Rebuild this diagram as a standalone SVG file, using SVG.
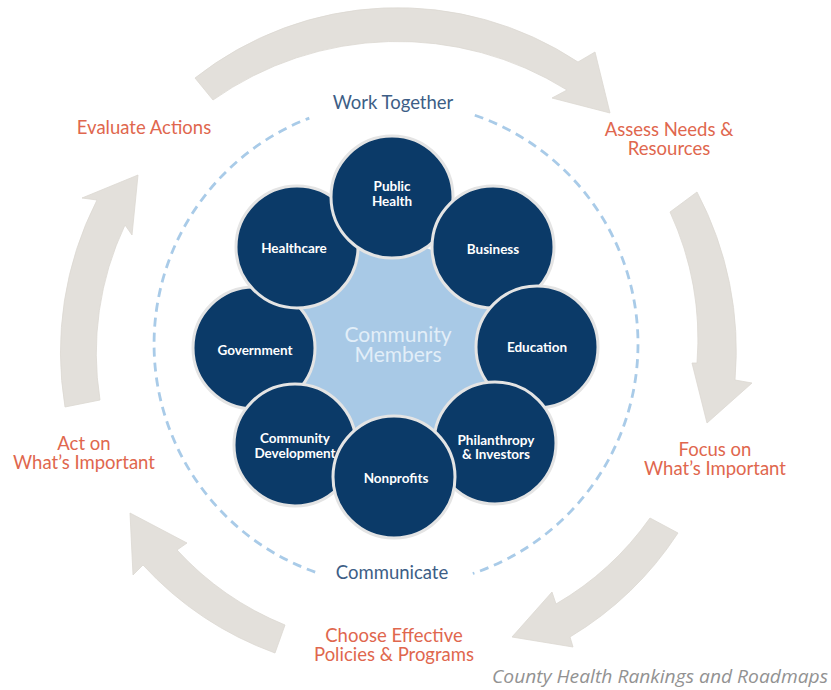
<svg xmlns="http://www.w3.org/2000/svg" width="831" height="690" viewBox="0 0 831 690">
<style>
.arrow{fill:#e3e0db;stroke:#dcd8d2;stroke-width:0.8}
.dash{fill:none;stroke:#a9cbe8;stroke-width:2.8;stroke-dasharray:9 6}
.step{font-family:Lato,"Liberation Sans",sans-serif;font-size:18.5px;fill:#e0674e;text-anchor:middle}
.ring{font-family:Lato,"Liberation Sans",sans-serif;font-size:18.5px;fill:#3d5e86;text-anchor:middle}
.node circle{fill:#0b3a68;stroke:#e4e4e4;stroke-width:3}
.node text{font-family:Lato,"Liberation Sans",sans-serif;font-weight:700;font-size:13.5px;fill:#ffffff;text-anchor:middle}
.center{font-family:Lato,"Liberation Sans",sans-serif;font-size:21px;fill:#e2eef8;text-anchor:middle}
.credit{font-family:"Open Sans","Liberation Sans",sans-serif;font-style:italic;font-size:19px;fill:#929292;text-anchor:end}
</style>
<rect width="831" height="690" fill="#ffffff"/>
<g id="connectors">
<path class="arrow" d="M195,78 A327,327 0 0 1 578,62 L595,52 L610,113 L552,98 L567,90 A320,320 0 0 0 213,100 Z"/>
<path class="arrow" d="M697,192 A340,340 0 0 1 735,380 L752,383 L707,423 L692,363 L697,363 A305,305 0 0 0 670,212 Z"/>
<path class="arrow" d="M678,533 A335,335 0 0 1 570,637 L573,647 L512,637 L552,592 L556,604 A300,300 0 0 0 650,518 Z"/>
<path class="arrow" d="M275,653 A335,335 0 0 1 143,565 L133,575 L130,513 L187,543 L177,550 A300,300 0 0 0 285,625 Z"/>
<path class="arrow" d="M65,407 A335,335 0 0 1 97,200 L82,198 L138,175 L132,235 L125,225 A300,300 0 0 0 100,400 Z"/>
<path class="dash" d="M474.8,115.2 A242,242 0 0 1 472.8,573.5"/>
<path class="dash" d="M315.2,572.1 A242,242 0 0 1 309.3,118.1"/>
</g>
<g id="labels">
<text class="step" x="144" y="134">Evaluate Actions</text>
<text class="step" x="669" y="136">Assess Needs &amp;</text>
<text class="step" x="669" y="155">Resources</text>
<text class="step" x="715" y="456">Focus on</text>
<text class="step" x="715" y="475">What’s Important</text>
<text class="step" x="394" y="642">Choose Effective</text>
<text class="step" x="394" y="661">Policies &amp; Programs</text>
<text class="step" x="84" y="450">Act on</text>
<text class="step" x="84" y="469">What’s Important</text>
<text class="ring" x="393" y="109">Work Together</text>
<text class="ring" x="392" y="579">Communicate</text>
</g>
<g id="community-members">
<circle cx="395" cy="345" r="102" fill="#a8c9e6"/>
<text class="center" x="398" y="342">Community</text>
<text class="center" x="398" y="362">Members</text>
</g>
<g id="government" class="node"><circle cx="254" cy="348" r="61"/><text x="255" y="355">Government</text></g>
<g id="community-development" class="node"><circle cx="295" cy="445" r="61"/><text x="295" y="443">Community</text><text x="295" y="458">Development</text></g>
<g id="healthcare" class="node"><circle cx="297" cy="247" r="61"/><text x="294" y="253">Healthcare</text></g>
<g id="public-health" class="node"><circle cx="392" cy="197" r="61"/><text x="392" y="191">Public</text><text x="392" y="206">Health</text></g>
<g id="business" class="node"><circle cx="493" cy="247" r="61"/><text x="493" y="254">Business</text></g>
<g id="education" class="node"><circle cx="537" cy="347" r="61"/><text x="537" y="352">Education</text></g>
<g id="philanthropy-investors" class="node"><circle cx="495" cy="443" r="61"/><text x="496" y="445">Philanthropy</text><text x="496" y="459">&amp; Investors</text></g>
<g id="nonprofits" class="node"><circle cx="394" cy="477" r="61"/><text x="396" y="483">Nonprofits</text></g>
<text class="credit" x="828" y="683" textLength="336" lengthAdjust="spacingAndGlyphs">County Health Rankings and Roadmaps</text>
</svg>
